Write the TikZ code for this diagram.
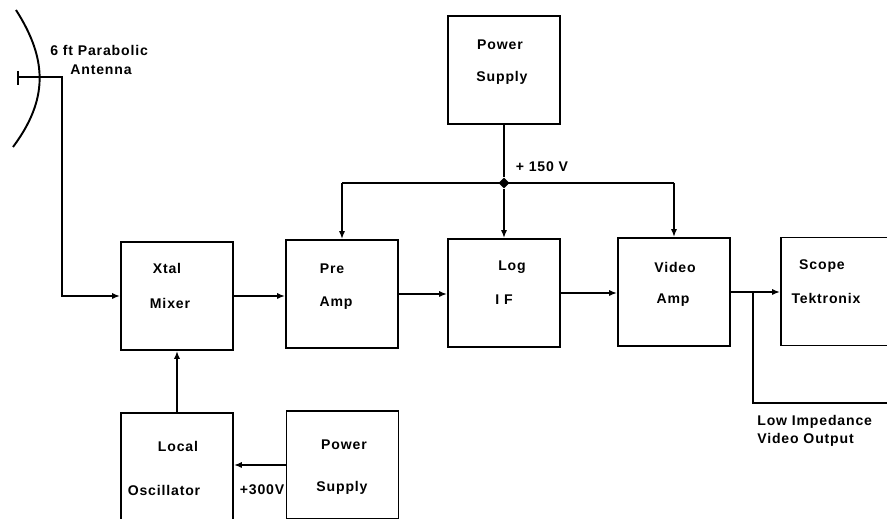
\documentclass[tikz,border=0pt]{standalone}
\usepackage{fontspec}
\setmainfont{Liberation Sans}[LetterSpace=6.0]
\usetikzlibrary{arrows.meta, shapes.geometric, positioning}

\tikzset{
  blk/.style={draw, line width=1.1pt, minimum width=2.24cm, minimum height=2.16cm, inner sep=0pt},
  lbl/.style={font=\fontsize{8}{9}\selectfont\bfseries, inner sep=0pt},
  arr/.style={-{Latex[length=4.5pt,width=3.5pt]}},
  wire/.style={line width=1.1pt}
}

\begin{document}
\begin{tikzpicture}[x=0.02cm, y=-0.02cm]
    \useasboundingbox (0,0) rectangle (887,519);
    \clip (0,0) rectangle (887,519);

    % Blocks
    \node[blk] (psu)   at (504,70)   {};
    \node[blk] (mix)   at (177,296)  {};
    \node[blk] (pre)   at (342,294)  {};
    \node[blk] (logif) at (504,293)  {};
    \node[blk] (vid)   at (674,292)  {};
    \node[blk] (scope) at (837,291.5) {};
    \node[blk] (osc)   at (177,467)  {};
    \node[blk] (psub)  at (342.5,465) {};

    % Block texts
    \node[lbl] (psuA)   at (500,45)  {Power};
    \node[lbl] (psuB)   at (502,78)  {Supply};
    \node[lbl] (mixA)   at (167,268) {Xtal};
    \node[lbl] (mixB)   at (170,303) {Mixer};
    \node[lbl] (preA)   at (332,269) {Pre};
    \node[lbl] (preB)   at (336,303) {Amp};
    \node[lbl] (logifA) at (512,267) {Log};
    \node[lbl] (logifB) at (504,300) {I F};
    \node[lbl] (vidA)   at (675,267) {Video};
    \node[lbl] (vidB)   at (673,300) {Amp};
    \node[lbl] (scopeA) at (822,266) {Scope};
    \node[lbl] (scopeB) at (826,298) {Tektronix};
    \node[lbl] (oscA)   at (178,446) {Local};
    \node[lbl] (oscB)   at (164,490) {Oscillator};
    \node[lbl] (psubA)  at (344,445) {Power};
    \node[lbl] (psubB)  at (342,488) {Supply};

    % Antenna
    \draw[wire] (16,10) .. controls (48,60) and (48,100) .. (13,147);
    \coordinate (feed) at (18,77);
    \coordinate (dish) at (62,77);
    \draw[wire] (18,71) -- (18,85);
    \draw[wire, arr] (feed) -- (dish) |- (mix.west);
    \node[lbl, anchor=west] (antA) at (50,50) {6 ft Parabolic};
    \node[lbl, anchor=west] (antB) at (70,70) {Antenna};

    % Signal chain
    \draw[wire, arr] (mix.east) -- (mix.east -| pre.west);
    \draw[wire, arr] (pre.east) -- (pre.east -| logif.west);
    \draw[wire, arr] (logif.east) -- (logif.east -| vid.west);
    \draw[wire, arr] (vid.east) -- (vid.east -| scope.west);

    % Video output
    \coordinate (tap) at (753,292);
    \coordinate (outR) at (890,403);
    \draw[wire] (tap) |- (outR);
    \node[lbl, anchor=west] (lowA) at (757,422) {Low Impedance};
    \node[lbl, anchor=west] (lowB) at (757,440) {Video Output};

    % +150 V supply bus
    \node[diamond, fill, inner sep=1.6pt] (jct) at (504,183) {};
    \draw[wire] (psu.south) -- (jct);
    \coordinate (busL) at (pre.north |- jct);
    \coordinate (busR) at (vid.north |- jct);
    \draw[wire] (busL) -- (busR);
    \draw[wire, arr] (busL) -- (pre.north);
    \draw[wire, arr] (jct) -- (logif.north);
    \draw[wire, arr] (busR) -- (vid.north);
    \node[lbl] (v150) at (542,167) {+ 150 V};

    % Local oscillator
    \draw[wire, arr] (osc.north) -- (mix.south);
    \draw[wire, arr] (psub.west) -- (psub.west -| osc.east);
    \node[lbl] (v300) at (262,490) {+300V};
\end{tikzpicture}
\end{document}
